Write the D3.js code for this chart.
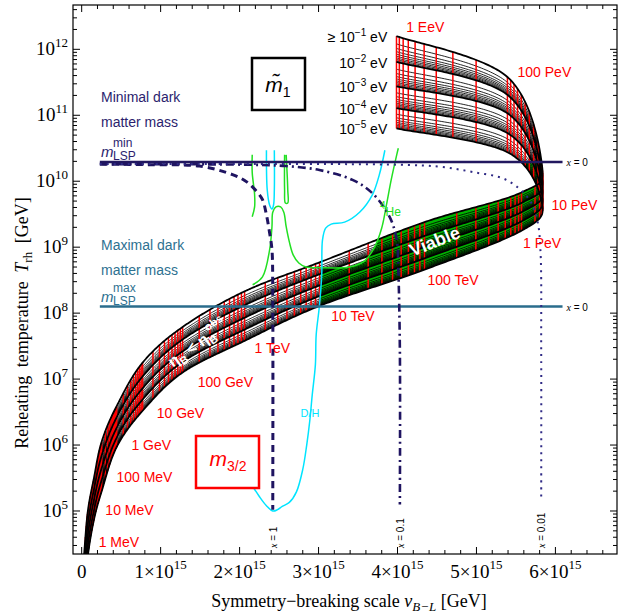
<!DOCTYPE html>
<html>
<head>
<meta charset="utf-8">
<script src="https://cdn.jsdelivr.net/npm/d3@7"></script>
<style>
  body { margin: 0; background: #fff; }
  svg text { font-family: "Liberation Sans", Arial, sans-serif; }
  svg text.serif { font-family: "Liberation Serif", "Times New Roman", serif; }
</style>
</head>
<body>
<div id="graph"></div>
<script>
// gravitino mass nodes along the band (first one unlabelled, below 1 MeV)
var m32Names = ["100 keV", "1 MeV", "10 MeV", "100 MeV", "1 GeV", "10 GeV", "100 GeV", "1 TeV",
  "10 TeV", "100 TeV", "1 PeV", "10 PeV", "100 PeV", "1 EeV"];
// symmetry-breaking scale v_B-L at each node [1e15 GeV]
var vBL = [0.03, 0.076, 0.152, 0.253, 0.443, 0.772, 1.278, 2.063, 3.013, 4.342, 5.57, 5.83, 5.392, 3.987];
// log10 T_rh [GeV] at each node, one array per m~1
var logT_m1_1e1 = [4.33, 4.98, 5.48, 6.05, 6.59, 7.25, 7.79, 8.33, 8.77, 9.38, 9.83, 10.24, 11.58, 12.20];
var logT_m1_1e2 = [4.15, 4.79, 5.31, 5.84, 6.42, 7.04, 7.60, 8.12, 8.59, 9.17, 9.67, 10.08, 11.31, 11.81];
var logT_m1_1e3 = [3.98, 4.62, 5.15, 5.65, 6.26, 6.86, 7.42, 7.93, 8.42, 9.00, 9.53, 9.94, 11.03, 11.44];
var logT_m1_1e4 = [3.82, 4.46, 4.99, 5.47, 6.11, 6.69, 7.26, 7.75, 8.26, 8.83, 9.39, 9.80, 10.73, 11.11];
var logT_m1_1e5 = [3.66, 4.30, 4.85, 5.30, 5.97, 6.52, 7.10, 7.58, 8.11, 8.66, 9.25, 9.66, 10.44, 10.80];
var m1Exponents = ["−1", "−2", "−3", "−4", "−5"];
var minorSteps = [2, 3, 4, 5, 6, 7, 8, 9];

// red m3/2 label anchors [v, log10 T]
var m32LabelPos = [[0.215, 4.46], [0.30, 4.94], [0.44, 5.44], [0.63, 5.93], [0.95, 6.41], [1.47, 6.88],
  [2.19, 7.40], [3.16, 7.88], [4.38, 8.43], [5.59, 8.99], [5.95, 9.57], [5.52, 11.58], [4.11, 12.26]];

// dark matter mass lines
var lspMinT = 10.29, lspMaxT = 8.10, lspRange = [0.23, 6.09];

// x = 1, 0.1, 0.01 contours [v, log10 T]
var xLine1 = [[0.23, 10.26], [0.86, 10.25], [1.49, 10.23], [1.91, 10.10], [2.09, 9.99], [2.22, 9.84],
  [2.29, 9.72], [2.34, 9.49], [2.38, 9.22], [2.41, 8.96], [2.42, 8.20], [2.42, 5.02]];
var xLine01 = [[0.23, 10.26], [2.13, 10.25], [2.59, 10.23], [3.01, 10.17], [3.43, 10.02], [3.68, 9.82],
  [3.90, 9.46], [3.99, 9.11], [4.01, 8.66], [4.03, 7.44], [4.03, 5.10]];
var xLine001 = [[0.23, 10.26], [4.03, 10.25], [4.53, 10.22], [4.95, 10.14], [5.38, 10.02], [5.67, 9.72],
  [5.77, 9.41], [5.81, 8.96], [5.82, 7.44], [5.82, 5.21]];

// 4He bound (green)
var he4A = [[2.16, 10.40], [2.16, 10.13], [2.19, 9.80], [2.19, 9.61], [2.16, 9.46]];
var he4B = [[2.165, 8.43], [2.29, 8.55], [2.38, 8.96], [2.41, 9.31], [2.42, 9.53], [2.46, 9.61], [2.52, 9.61],
  [2.56, 9.53], [2.59, 9.31], [2.63, 9.08], [2.68, 8.88], [2.75, 8.76], [2.84, 8.70], [3.01, 8.69],
  [3.39, 8.70], [3.58, 8.79], [3.71, 9.00], [3.80, 9.29], [3.86, 9.64], [3.92, 10.02], [3.99, 10.40], [4.01, 10.50]];
var he4C = [[2.57, 10.40], [2.57, 9.87], [2.58, 9.67], [2.61, 9.67], [2.61, 9.87], [2.59, 10.40]];
// D/H bound (cyan)
var dhA = [[2.34, 10.47], [2.35, 9.87], [2.38, 9.64], [2.41, 9.58], [2.43, 9.64], [2.44, 9.87], [2.44, 10.47]];
var dhB = [[2.13, 5.44], [2.25, 5.22], [2.34, 5.08], [2.42, 5.00], [2.48, 5.02], [2.54, 5.07], [2.63, 5.13],
  [2.72, 5.29], [2.80, 5.63], [2.85, 6.00], [2.89, 6.38], [2.92, 6.76], [2.96, 7.22], [2.97, 7.67],
  [3.01, 8.10], [3.04, 8.58], [3.05, 9.11], [3.09, 9.29], [3.16, 9.35], [3.33, 9.38], [3.52, 9.53],
  [3.68, 9.79], [3.77, 10.10], [3.84, 10.47]];
// edge of the viable (green) region
var viableEdge = [[2.99, 4.0], [2.97, 7.67], [3.01, 8.10], [3.03, 8.70], [3.39, 8.70], [3.58, 8.79], [3.71, 9.00],
  [3.80, 9.29], [3.86, 9.64], [3.92, 10.02], [3.94, 10.29], [7.0, 10.29], [7.0, 4.0]];

var xMajor = [0, 1, 2, 3, 4, 5, 6];
var yMajor = [5, 6, 7, 8, 9, 10, 11, 12];

var W = 621, H = 616;
var L = 73, R = 617, T = 5, B = 554;

var svg = d3.select("#graph").append("svg")
  .attr("width", W).attr("height", H);

var x = d3.scaleLinear().domain([-0.11, 6.78]).range([L, R]);
var y = d3.scaleLog().domain([Math.pow(10, 4.348), Math.pow(10, 12.672)]).range([B, T]);
function P(d) { return [x(d[0]), y(Math.pow(10, d[1]))]; }

var defs = svg.append("defs");
defs.append("clipPath").attr("id", "frameClip")
  .append("rect").attr("x", L).attr("y", T).attr("width", R - L).attr("height", B - T);
defs.append("clipPath").attr("id", "viableClip")
  .append("path").attr("d", "M" + viableEdge.map(P).join("L") + "Z");

// catmull-rom through the nodes
function cr(arr, s) {
  var n = arr.length;
  var i = Math.max(0, Math.min(Math.floor(s), n - 2)), t = s - i;
  var p0 = arr[Math.max(i - 1, 0)], p1 = arr[i], p2 = arr[i + 1], p3 = arr[Math.min(i + 2, n - 1)];
  var m1 = (p2 - p0) / 2, m2 = (p3 - p1) / 2;
  var t2 = t * t, t3 = t2 * t;
  return (2 * t3 - 3 * t2 + 1) * p1 + (t3 - 2 * t2 + t) * m1 + (-2 * t3 + 3 * t2) * p2 + (t3 - t2) * m2;
}
var curves = [logT_m1_1e1, logT_m1_1e2, logT_m1_1e3, logT_m1_1e4, logT_m1_1e5];
var sMax = vBL.length - 1;
function meshPt(s, level) {
  var i = Math.min(Math.floor(level), 3), f = level - i;
  var a = cr(curves[i], s), b = cr(curves[i + 1], s);
  return P([cr(vBL, s), a + f * (b - a)]);
}
var sSteps = d3.range(0, sMax + 1e-9, 0.02);
var line = d3.line();

var band = svg.append("g").attr("clip-path", "url(#frameClip)");

// green viable part of the band
var quads = "";
for (var j = 0; j < sSteps.length - 1; j++) {
  var q = [meshPt(sSteps[j], 0), meshPt(sSteps[j + 1], 0), meshPt(sSteps[j + 1], 4), meshPt(sSteps[j], 4)];
  if (d3.polygonArea(q) < 0) q.reverse();
  quads += "M" + q.join("L") + "Z";
}
band.append("g").attr("clip-path", "url(#viableClip)")
  .append("path").attr("d", quads).attr("fill", "#00b400");

// thin m~1 lines
var thinLevels = [];
for (var i = 0; i < 4; i++) minorSteps.forEach(function(k) { thinLevels.push(i + Math.log10(k)); });
band.selectAll(".thin").data(thinLevels).enter().append("path")
  .attr("class", "thin")
  .attr("d", function(lv) { return line(sSteps.map(function(s) { return meshPt(s, lv); })); })
  .attr("fill", "none").attr("stroke", "#000").attr("stroke-width", 0.85);

// red m3/2 lines
var redS = [];
for (var d = 0; d < sMax; d++) minorSteps.concat([1]).forEach(function(k) { redS.push(d + Math.log10(k)); });
redS.push(sMax);
var lvSteps = d3.range(0, 4.001, 0.1);
band.selectAll(".red").data(redS).enter().append("path")
  .attr("class", "red")
  .attr("d", function(s) { return line(lvSteps.map(function(lv) { return meshPt(s, lv); })); })
  .attr("fill", "none").attr("stroke", "#ff0000").attr("stroke-width", 1.5);

// thick m~1 lines
band.selectAll(".thick").data([0, 1, 2, 3, 4]).enter().append("path")
  .attr("class", "thick")
  .attr("d", function(lv) { return line(sSteps.map(function(s) { return meshPt(s, lv); })); })
  .attr("fill", "none").attr("stroke", "#000").attr("stroke-width", 1.8);

// BBN bounds
var smooth = d3.line().curve(d3.curveCatmullRom.alpha(0.5));
[he4A, he4B, he4C].forEach(function(c) {
  band.append("path").attr("d", smooth(c.map(P))).attr("fill", "none")
    .attr("stroke", "#22e022").attr("stroke-width", 1.5);
});
[dhA, dhB].forEach(function(c) {
  band.append("path").attr("d", smooth(c.map(P))).attr("fill", "none")
    .attr("stroke", "#00e4ff").attr("stroke-width", 1.5);
});

// LSP mass lines
band.append("line").attr("x1", x(lspRange[0])).attr("x2", x(lspRange[1]))
  .attr("y1", y(Math.pow(10, lspMinT))).attr("y2", y(Math.pow(10, lspMinT)))
  .attr("stroke", "#22185f").attr("stroke-width", 2.5);
band.append("line").attr("x1", x(lspRange[0])).attr("x2", x(lspRange[1]))
  .attr("y1", y(Math.pow(10, lspMaxT))).attr("y2", y(Math.pow(10, lspMaxT)))
  .attr("stroke", "#2a6c8c").attr("stroke-width", 2.5);

// x contours
band.append("path").attr("d", smooth(xLine1.map(P))).attr("fill", "none")
  .attr("stroke", "#1f1461").attr("stroke-width", 3).attr("stroke-dasharray", "7,5");
band.append("path").attr("d", smooth(xLine01.map(P))).attr("fill", "none")
  .attr("stroke", "#1f1461").attr("stroke-width", 2.6).attr("stroke-dasharray", "8,4,2,4");
band.append("path").attr("d", smooth(xLine001.map(P))).attr("fill", "none")
  .attr("stroke", "#2f2a85").attr("stroke-width", 2).attr("stroke-dasharray", "2,5");

// frame and ticks
svg.append("rect").attr("x", L).attr("y", T).attr("width", R - L).attr("height", B - T)
  .attr("fill", "none").attr("stroke", "#000").attr("stroke-width", 1.2);
var xMinor = d3.range(0, 34).map(function(i) { return i * 0.2; })
  .filter(function(v) { return Math.abs(v - Math.round(v)) > 1e-6 && v < 6.78; });
var ticks = svg.append("g").attr("stroke", "#000").attr("stroke-width", 1);
xMajor.forEach(function(v) {
  ticks.append("line").attr("x1", x(v)).attr("x2", x(v)).attr("y1", B).attr("y2", B - 7);
  ticks.append("line").attr("x1", x(v)).attr("x2", x(v)).attr("y1", T).attr("y2", T + 7);
});
xMinor.forEach(function(v) {
  ticks.append("line").attr("x1", x(v)).attr("x2", x(v)).attr("y1", B).attr("y2", B - 4);
  ticks.append("line").attr("x1", x(v)).attr("x2", x(v)).attr("y1", T).attr("y2", T + 4);
});
var yMinor = [];
for (var n = 4; n <= 12; n++) for (var k = 2; k <= 9; k++) {
  var lv = n + Math.log10(k);
  if (lv > 4.348 && lv < 12.672) yMinor.push(lv);
}
yMajor.forEach(function(lv) {
  var yy = y(Math.pow(10, lv));
  ticks.append("line").attr("x1", L).attr("x2", L + 7).attr("y1", yy).attr("y2", yy);
  ticks.append("line").attr("x1", R).attr("x2", R - 7).attr("y1", yy).attr("y2", yy);
});
yMinor.forEach(function(lv) {
  var yy = y(Math.pow(10, lv));
  ticks.append("line").attr("x1", L).attr("x2", L + 4).attr("y1", yy).attr("y2", yy);
  ticks.append("line").attr("x1", R).attr("x2", R - 4).attr("y1", yy).attr("y2", yy);
});

// tick labels
xMajor.forEach(function(v) {
  var t = svg.append("text").attr("class", "serif").attr("x", x(v)).attr("y", 578)
    .attr("text-anchor", "middle").attr("font-size", 19);
  if (v === 0) { t.text("0"); return; }
  t.append("tspan").text(v + "×10");
  t.append("tspan").attr("dy", -9).attr("font-size", 13).text("15");
});
yMajor.forEach(function(lv) {
  var t = svg.append("text").attr("class", "serif").attr("x", 68).attr("y", y(Math.pow(10, lv)) + 6)
    .attr("text-anchor", "end").attr("font-size", 19);
  t.append("tspan").text("10");
  t.append("tspan").attr("dy", -8).attr("font-size", 13).text(lv);
});

// axis titles
var xt = svg.append("text").attr("class", "serif").attr("x", 349).attr("y", 607)
  .attr("text-anchor", "middle").attr("font-size", 18);
xt.append("tspan").text("Symmetry−breaking scale ");
xt.append("tspan").attr("font-style", "italic").text("v");
xt.append("tspan").attr("font-style", "italic").attr("font-size", 13).attr("dy", 4).text("B−L");
xt.append("tspan").attr("dy", -4).text(" [GeV]");

var yt = svg.append("text").attr("class", "serif").attr("transform", "translate(28,323) rotate(-90)")
  .attr("text-anchor", "middle").attr("font-size", 18).attr("word-spacing", 4);
yt.append("tspan").text("Reheating temperature ");
yt.append("tspan").attr("font-style", "italic").text("T");
yt.append("tspan").attr("font-size", 13).attr("dy", 4).text("rh");
yt.append("tspan").attr("dy", -4).text(" [GeV]");

// m3/2 labels
svg.selectAll(".m32lab").data(m32Names.slice(1)).enter().append("text")
  .attr("class", "m32lab")
  .attr("x", function(d, i) { return x(m32LabelPos[i][0]); })
  .attr("y", function(d, i) { return y(Math.pow(10, m32LabelPos[i][1])); })
  .attr("font-size", 14).attr("fill", "#ff0000").text(function(d) { return d; });

// m~1 labels
curves.forEach(function(c, i) {
  var t = svg.append("text").attr("x", x(3.87)).attr("y", y(Math.pow(10, c[sMax])) + 6)
    .attr("text-anchor", "end").attr("font-size", 14).attr("fill", "#000");
  t.append("tspan").text((i === 0 ? "≥ " : "") + "10");
  t.append("tspan").attr("dy", -6).attr("font-size", 10).text(m1Exponents[i]);
  t.append("tspan").attr("dy", 6).text(" eV");
});

// dark matter mass annotations
function lspLabel(y0, col, l1, sup, lineY) {
  svg.append("text").attr("x", 101).attr("y", y0).attr("font-size", 14).attr("fill", col).text(l1);
  svg.append("text").attr("x", 101).attr("y", y0 + 25).attr("font-size", 14).attr("fill", col).text("matter mass");
  svg.append("text").attr("x", 101).attr("y", lineY - 5).attr("font-size", 15).attr("font-style", "italic")
    .attr("fill", col).text("m");
  svg.append("text").attr("x", 113).attr("y", lineY - 15).attr("font-size", 12).attr("fill", col).text(sup);
  svg.append("text").attr("x", 113).attr("y", lineY - 2).attr("font-size", 12).attr("fill", col).text("LSP");
}
lspLabel(102, "#2b1e6e", "Minimal dark", "min", y(Math.pow(10, lspMinT)));
lspLabel(250, "#2e7191", "Maximal dark", "max", y(Math.pow(10, lspMaxT)));

// x = ... labels
svg.append("text").attr("x", x(6.14)).attr("y", y(Math.pow(10, lspMinT)) + 4).attr("font-size", 10)
  .html('<tspan font-style="italic" font-family="Liberation Serif">x</tspan> = 0');
svg.append("text").attr("x", x(6.14)).attr("y", y(Math.pow(10, lspMaxT)) + 4).attr("font-size", 10)
  .html('<tspan font-style="italic" font-family="Liberation Serif">x</tspan> = 0');
[[2.42, "1"], [4.03, "0.1"], [5.82, "0.01"]].forEach(function(d) {
  svg.append("text").attr("transform", "translate(" + (x(d[0]) + 4) + ",548) rotate(-90)")
    .attr("font-size", 10)
    .html('<tspan font-style="italic" font-family="Liberation Serif">x</tspan> = ' + d[1]);
});

// BBN labels
var he = svg.append("text").attr("x", 380).attr("y", 216).attr("fill", "#22e022").attr("font-size", 12);
he.append("tspan").attr("font-size", 10).attr("dy", -7).text("4");
he.append("tspan").attr("dy", 7).text("He");
svg.append("text").attr("x", 310).attr("y", 417).attr("text-anchor", "middle")
  .attr("fill", "#00e4ff").attr("font-size", 11).text("D/H");

// white labels on the band
svg.append("text").attr("transform", "translate(437,247) rotate(-22)").attr("text-anchor", "middle")
  .attr("font-size", 18).attr("font-weight", "bold").attr("fill", "#fff").text("Viable");
var eta = svg.append("text").attr("transform", "translate(201,348) rotate(-35)").attr("text-anchor", "middle")
  .attr("font-size", 16).attr("font-weight", "bold").attr("fill", "#fff");
eta.append("tspan").text("η");
eta.append("tspan").attr("font-size", 11).attr("dy", 4).text("B");
eta.append("tspan").attr("dy", -4).text(" < η");
eta.append("tspan").attr("font-size", 11).attr("dy", 4).text("B");
eta.append("tspan").attr("font-size", 11).attr("dx", -4).attr("dy", -14).text("obs");

// boxes
svg.append("rect").attr("x", 252).attr("y", 58).attr("width", 53).attr("height", 52)
  .attr("fill", "#fff").attr("stroke", "#000").attr("stroke-width", 2.5);
var mt = svg.append("text").attr("x", 278).attr("y", 92).attr("text-anchor", "middle").attr("font-size", 21);
mt.append("tspan").attr("font-style", "italic").text("m\u0303");
mt.append("tspan").attr("font-size", 14).attr("dy", 5).text("1");

svg.append("rect").attr("x", 196).attr("y", 436).attr("width", 63).attr("height", 52)
  .attr("fill", "#fff").attr("stroke", "#ff0000").attr("stroke-width", 2.5);
var mg = svg.append("text").attr("x", 228).attr("y", 466).attr("text-anchor", "middle")
  .attr("font-size", 21).attr("fill", "#ff0000");
mg.append("tspan").attr("font-style", "italic").text("m");
mg.append("tspan").attr("font-size", 14).attr("dy", 5).text("3/2");
</script>
</body>
</html>
